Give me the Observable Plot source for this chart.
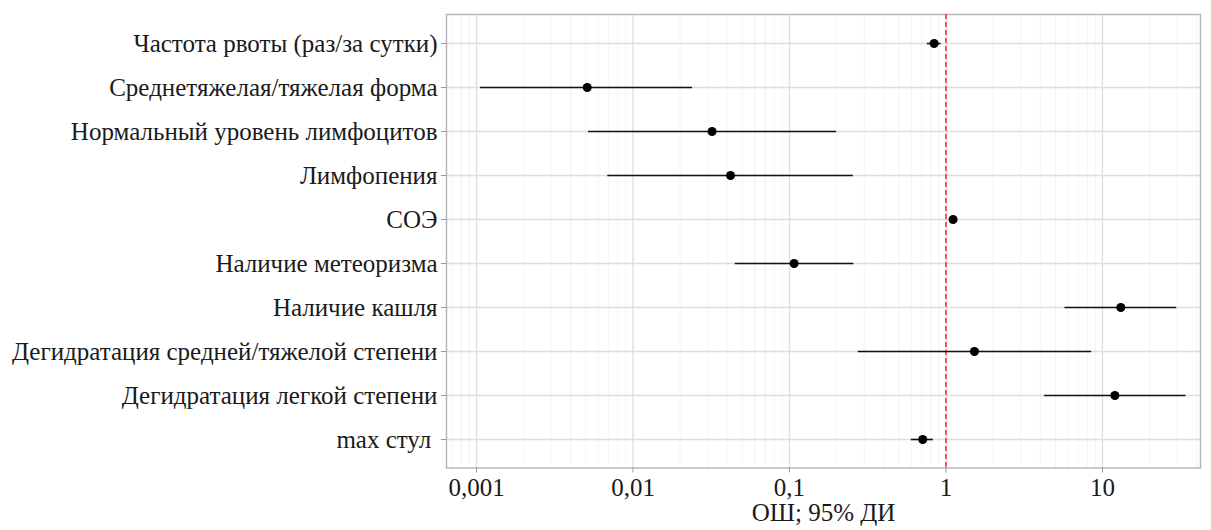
<!DOCTYPE html>
<html>
<head>
<meta charset="utf-8">
<script src="https://cdn.jsdelivr.net/npm/d3@7"></script>
<script src="https://cdn.jsdelivr.net/npm/@observablehq/plot@0.6"></script>
<style>
  html, body { margin: 0; padding: 0; background: #fff; }
</style>
</head>
<body>
<div id="chart"></div>
<script>
const categories = [
  "Частота рвоты (раз/за сутки)",
  "Среднетяжелая/тяжелая форма",
  "Нормальный уровень лимфоцитов",
  "Лимфопения",
  "СОЭ",
  "Наличие метеоризма",
  "Наличие кашля",
  "Дегидратация средней/тяжелой степени",
  "Дегидратация легкой степени",
  "max стул "
];
const oddsRatio = [0.84, 0.0051, 0.032, 0.042, 1.11, 0.107, 13.1, 1.52, 12.0, 0.71];
const ciLow     = [0.76, 0.00106, 0.0052, 0.0069, 1.09, 0.045, 5.76, 0.275, 4.27, 0.60];
const ciHigh    = [0.93, 0.024, 0.200, 0.256, 1.13, 0.258, 29.8, 8.53, 34.2, 0.83];
const tickValues = [0.001, 0.01, 0.1, 1, 10];
const tickLabels = ["0,001", "0,01", "0,1", "1", "10"];
const axisTitle = "ОШ; 95% ДИ";

const rows = categories.map((c, i) => ({cat: c, or: oddsRatio[i], lo: ciLow[i], hi: ciHigh[i]}));

const minor = [];
for (let e = -4; e <= 1; e++) for (let m = 2; m <= 9; m++) minor.push(m * Math.pow(10, e));
const domain = [0.000643, 42.3];
const minorIn = minor.filter(v => v > domain[0] && v < domain[1]);

const font = "'Liberation Serif', 'Times New Roman', serif";

const chart = Plot.plot({
  width: 1211,
  height: 530,
  marginLeft: 446,
  marginRight: 11,
  marginTop: 14,
  marginBottom: 62.5,
  style: {fontFamily: font, fontSize: "25px", color: "#1a1a1a", background: "#fff"},
  x: {type: "log", domain: domain},
  y: {type: "point", domain: categories, padding: 0.6},
  marks: [
    Plot.ruleX(minorIn, {stroke: "#f0f0f0", strokeWidth: 0.8}),
    Plot.ruleX(tickValues, {stroke: "#dedede", strokeWidth: 1.3}),
    Plot.ruleY(categories, {y: d => d, stroke: "#dedede", strokeWidth: 1.3}),
    Plot.frame({stroke: "#b3b3b3", strokeWidth: 1.4}),
    Plot.axisX({
      ticks: tickValues,
      tickFormat: d => tickLabels[tickValues.indexOf(d)],
      tickSize: 5,
      tickPadding: 5.5,
      stroke: "#999",
      fill: "#1a1a1a",
      fontSize: 25,
      label: null
    }),
    Plot.axisY({
      tickSize: 5,
      tickPadding: 4,
      stroke: "#999",
      fill: "#1a1a1a",
      fontSize: 25,
      label: null
    }),
    Plot.ruleX([1], {stroke: "#ff3030", strokeWidth: 1.6, strokeDasharray: "5,3"}),
    Plot.ruleY(rows, {y: "cat", x1: "lo", x2: "hi", stroke: "#111", strokeWidth: 1.6}),
    Plot.dot(rows, {y: "cat", x: "or", r: 4.5, fill: "#000", stroke: null}),
    Plot.text([axisTitle], {frameAnchor: "bottom", dy: 53, text: d => d, fontSize: 25, fill: "#1a1a1a"})
  ]
});
document.getElementById("chart").appendChild(chart);
</script>
</body>
</html>
